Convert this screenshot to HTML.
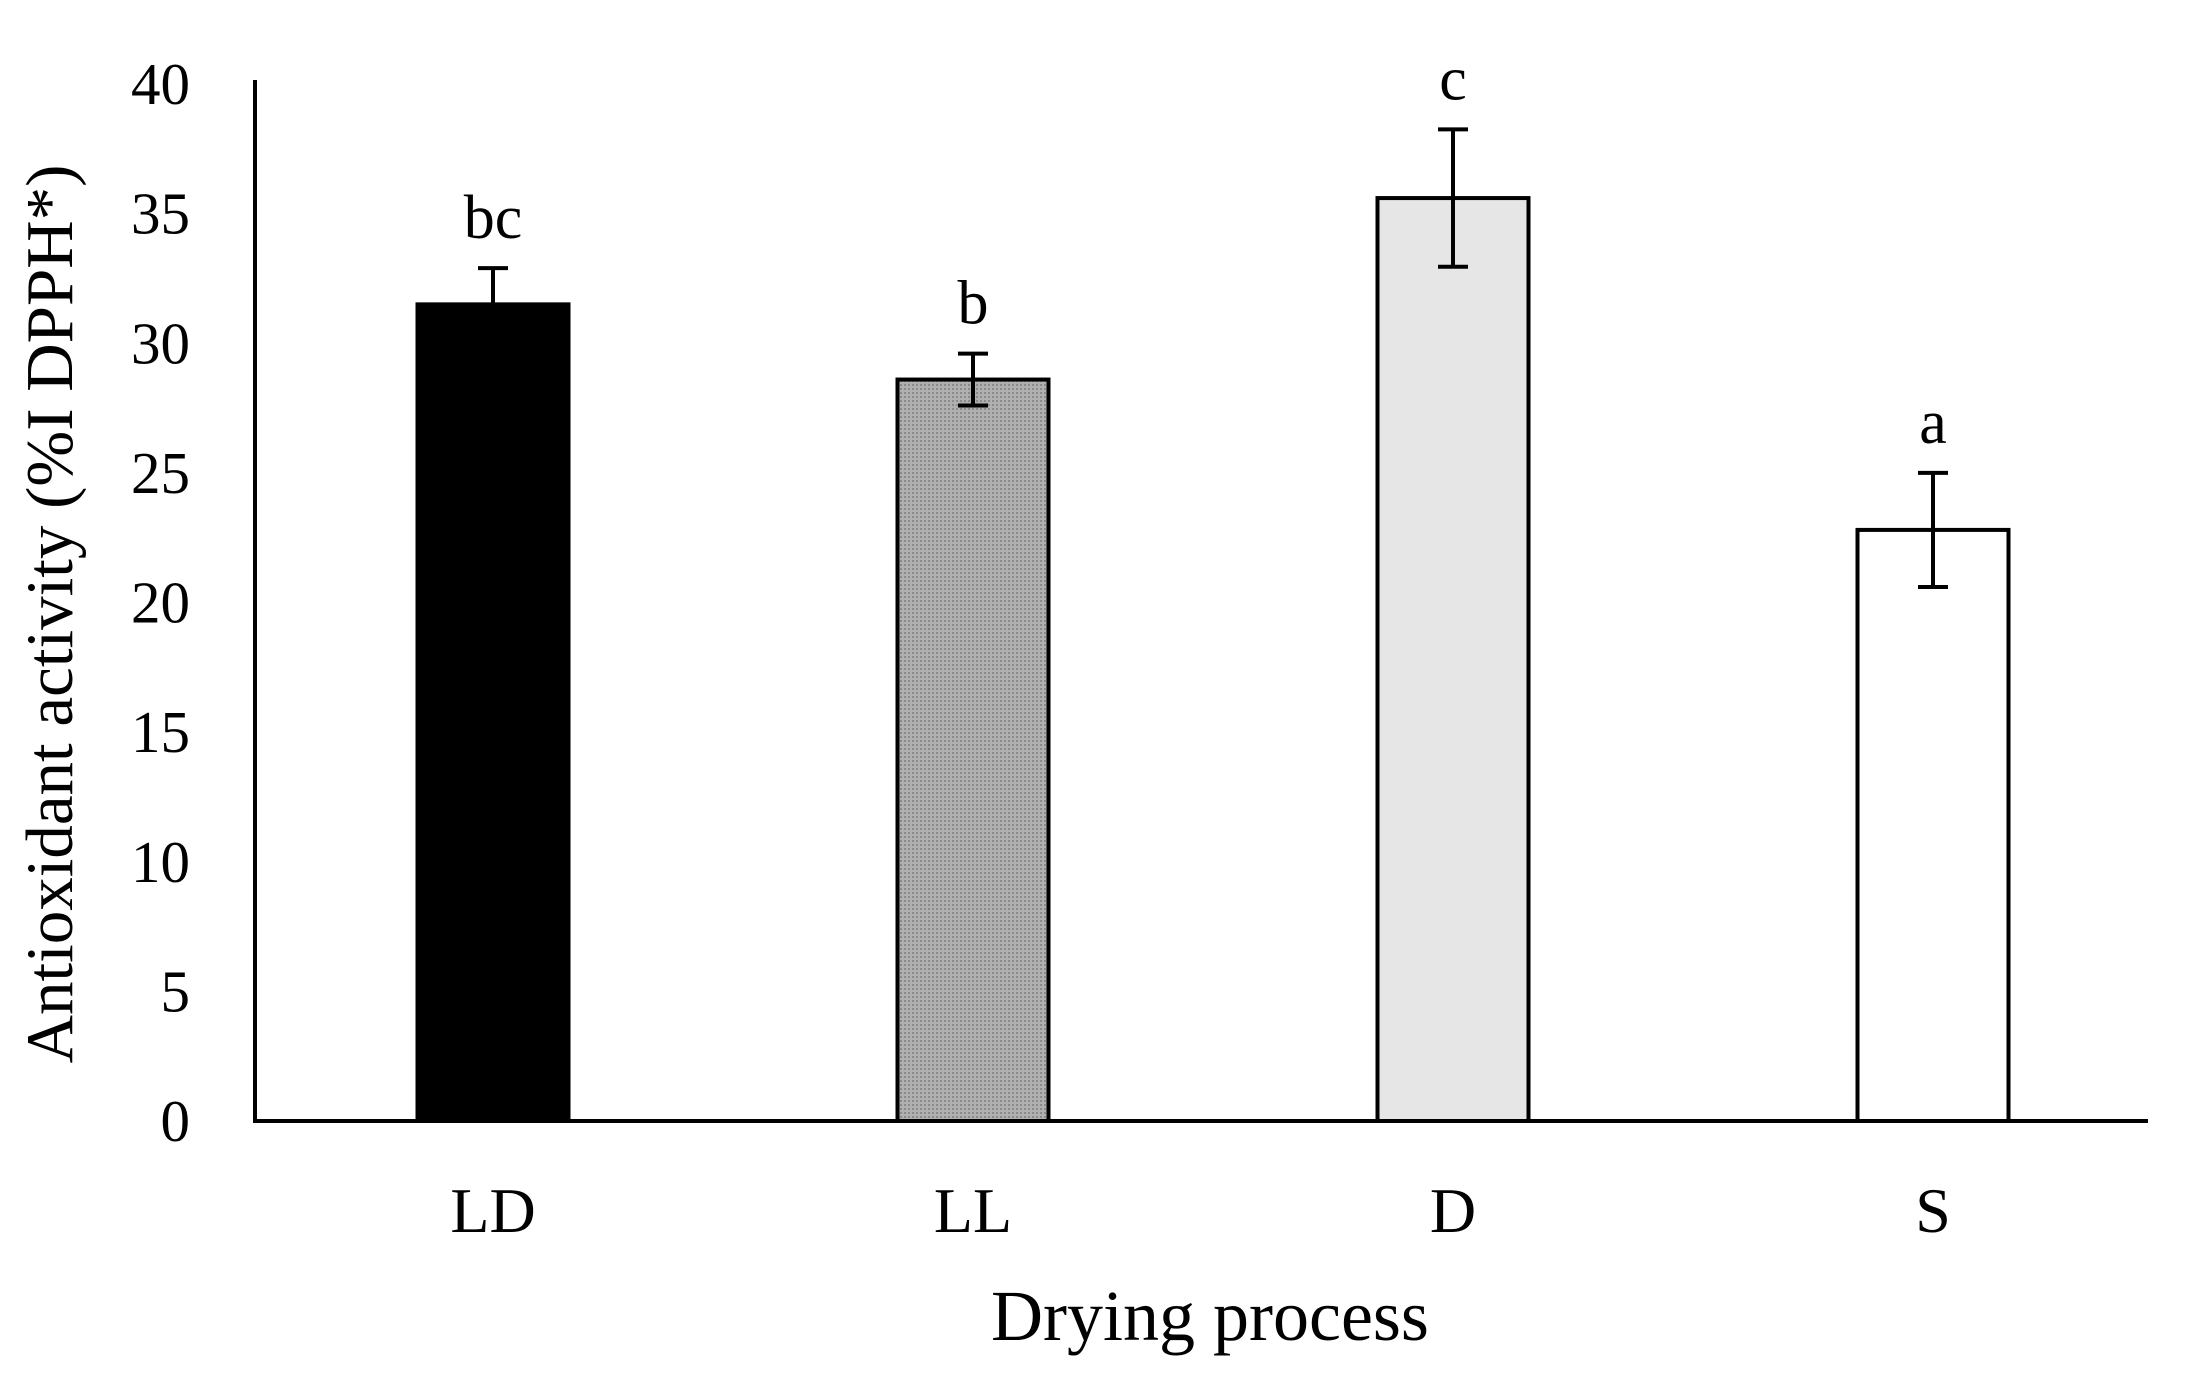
<!DOCTYPE html>
<html><head><meta charset="utf-8"><style>
html,body{margin:0;padding:0;background:#fff;}
svg{display:block;font-family:"Liberation Serif",serif;}
</style></head><body>
<svg id="chart" width="2194" height="1374" viewBox="0 0 2194 1374" xmlns="http://www.w3.org/2000/svg">
<defs>
<pattern id="dots" width="4" height="4" patternUnits="userSpaceOnUse">
<rect width="4" height="4" fill="#b0b0b0"/><rect width="2" height="2" fill="#8a8a8a"/>
</pattern>
</defs>
<g id="plot"></g>
</svg>
<script>
const categories = ["LD","LL","D","S"];
const values = [31.5, 28.6, 35.6, 22.8];
const errors = [1.4, 1.0, 2.65, 2.2];
const letters = ["bc","b","c","a"];
const yTicks = [0,5,10,15,20,25,30,35,40];
const fills = ["#000","url(#dots)","#e6e6e6","#fff"];

const X0=255, X1=2148, Y0=1121, Y40=84, YMAX=40;
const y = v => Y0 - (v/YMAX)*(Y0-Y40);
const xc = i => 493 + 480*i;
const BW = 151;
const NS="http://www.w3.org/2000/svg";
const g=document.getElementById('plot');
function mk(t,a){const e=document.createElementNS(NS,t);for(const k in a)e.setAttribute(k,a[k]);g.appendChild(e);return e;}

yTicks.forEach(t=>{
  const e=mk('text',{x:190,y:y(t)+20,'text-anchor':'end','font-size':59,fill:'#000'});
  e.textContent=t;
  
  
});
categories.forEach((c,i)=>{
  const cx=xc(i);
  const r=mk('rect',{x:cx-BW/2,y:y(values[i]),width:BW,height:Y0-y(values[i]),fill:fills[i],stroke:'#000','stroke-width':4});
  
  
  const top=y(values[i]+errors[i]), bot=y(values[i]-errors[i]);
  const eb=mk('path',{d:`M${cx},${top}V${bot}M${cx-15},${top}H${cx+15}M${cx-15},${bot}H${cx+15}`,stroke:'#000','stroke-width':4,fill:'none'});
  
  
  const l=mk('text',{x:cx,y:top-30,'text-anchor':'middle','font-size':62,fill:'#000'});
  l.textContent=letters[i];
  
  
  const cl=mk('text',{x:cx,y:1232,'text-anchor':'middle','font-size':64,fill:'#000'});
  cl.textContent=c;
  
  
});
const ax=mk('path',{d:`M${X0},${Y40-4}V${Y0}H${X1}`,stroke:'#000','stroke-width':4,fill:'none'});


const xt=mk('text',{x:1210,y:1340,'text-anchor':'middle','font-size':72,fill:'#000'});
xt.textContent='Drying process';


const yt=mk('text',{x:0,y:0,'text-anchor':'middle','font-size':67,fill:'#000',transform:'translate(72,614) rotate(-90)'});
yt.textContent='Antioxidant activity (%I DPPH*)';


</script>
</body></html>
